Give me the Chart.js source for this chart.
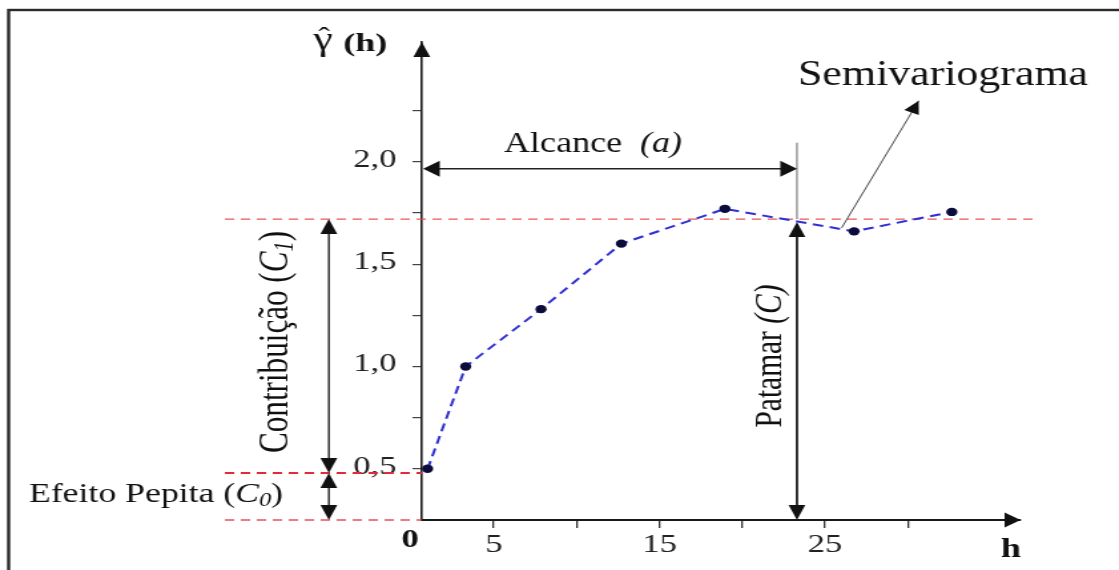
<!DOCTYPE html>
<html><head><meta charset="utf-8">
<script src="https://cdn.jsdelivr.net/npm/chart.js@4.4.1/dist/chart.umd.min.js"></script>
<style>
html,body{margin:0;padding:0;background:#fff;overflow:hidden;}
#c{display:block;width:1119px;height:570px;}
</style></head>
<body>
<canvas id="c" width="841" height="570" style="width:1119px;height:570px;"></canvas>
<script>
// ---- data ----
const lagH   = [1.0, 3.3, 7.85, 12.7, 18.95, 26.75, 32.65];
const gammaH = [0.50, 1.00, 1.28, 1.60, 1.77, 1.66, 1.755];
const xTickValues = [5, 10, 15, 20, 25, 30];
const xTickLabels = ['5', '', '15', '', '25', ''];
const yTickValues = [0.5, 0.75, 1.0, 1.25, 1.5, 1.75, 2.0, 2.25];
const yTickLabels = ['0,5', '', '1,0', '', '1,5', '', '2,0', ''];
const nuggetC0 = 0.48;   // efeito pepita
const sillC = 1.72;      // patamar
const rangeA = 23.3;     // alcance
const xMin = 0.65, xMax = 36.8, yMin = 0.25, yMax = 2.585;

// annotation anchors in data units
const guideLeftX = -11.24, sillRightX = 37.55, contribX = -4.96;
const alcanceY = 1.966, rangeGuideTopY = 2.093;
const pointerFrom = [26.0, 1.677], pointerTo = [30.65, 2.298];

const S = 1119 / 841; // horizontal stretch of the original picture
const SERIF = '"Liberation Serif", "Times New Roman", serif';

function fontFor(r, size) {
  const s = size * (r.s || 1);
  return (r.i ? 'italic ' : '') + (r.b ? 'bold ' : '') + s + 'px ' + SERIF;
}
function drawRuns(ctx, runs, x, y, rot, targetW, size, color) {
  let total = 0;
  runs.forEach(r => { ctx.font = fontFor(r, size); r._w = ctx.measureText(r.t).width; total += r._w; });
  const sx = targetW ? targetW / total : 1;
  ctx.save();
  ctx.translate(x, y); ctx.rotate(rot); ctx.scale(sx, 1);
  ctx.fillStyle = color || '#111';
  ctx.textBaseline = 'alphabetic'; ctx.textAlign = 'left';
  let cx = -total / 2;
  runs.forEach(r => { ctx.font = fontFor(r, size); ctx.fillText(r.t, cx, r.dy || 0); cx += r._w; });
  ctx.restore();
}
function head(ctx, tx, ty, ang, len, half) {
  ctx.save(); ctx.translate(tx, ty); ctx.rotate(ang);
  ctx.beginPath(); ctx.moveTo(0, 0); ctx.lineTo(-len, -half); ctx.lineTo(-len, half); ctx.closePath(); ctx.fill();
  ctx.restore();
}
function line(ctx, x1, y1, x2, y2, color, w, dash) {
  ctx.save(); ctx.strokeStyle = color; ctx.lineWidth = w; ctx.setLineDash(dash || []);
  ctx.beginPath(); ctx.moveTo(x1, y1); ctx.lineTo(x2, y2); ctx.stroke(); ctx.restore();
}
function vArrow(ctx, x, yTop, yBot, color, w) {
  line(ctx, x, yTop + 8, x, yBot - 8, color, w);
  ctx.fillStyle = color;
  head(ctx, x, yTop, -Math.PI / 2, 15, 6.3);
  head(ctx, x, yBot, Math.PI / 2, 15, 6.3);
}

const annot = {
  id: 'annot',
  beforeDraw(chart) {
    const c = chart.ctx;
    c.save(); c.fillStyle = '#fff'; c.fillRect(0, 0, chart.width, chart.height);
    c.strokeStyle = '#2a2a2a'; c.lineWidth = 2.4; c.strokeRect(6.5, 10, chart.width + 40, chart.height + 40);
    c.restore();
  },
  beforeDatasetsDraw(chart) {
    const c = chart.ctx, xs = chart.scales.x, ys = chart.scales.y;
    const X = v => xs.getPixelForValue(v), Y = v => ys.getPixelForValue(v);
    const a = chart.chartArea;
    // red dashed reference lines
    line(c, X(guideLeftX), Y(sillC), X(sillRightX), Y(sillC), 'rgba(228,70,70,0.9)', 1.2, [7, 5]);
    line(c, X(guideLeftX), Y(nuggetC0), a.left, Y(nuggetC0), '#e6283c', 2, [7, 5]);
    line(c, X(guideLeftX), a.bottom, a.left, a.bottom, 'rgba(230,60,72,0.9)', 1.5, [7, 5]);
    // contribution and nugget arrows
    vArrow(c, X(contribX), Y(sillC), Y(nuggetC0), '#111', 1.3);
    vArrow(c, X(contribX), Y(nuggetC0), a.bottom, '#111', 1.3);
    // patamar arrow
    vArrow(c, X(rangeA), Y(sillC) + 3, a.bottom, '#111', 1.7);
    // range guide
    line(c, X(rangeA), Y(rangeGuideTopY), X(rangeA), Y(sillC), '#666', 1);
    // alcance arrow
    line(c, a.left + 8, Y(alcanceY), X(rangeA) - 8, Y(alcanceY), '#222', 1.6);
    c.fillStyle = '#111';
    head(c, a.left + 1, Y(alcanceY), Math.PI, 12.5, 8);
    head(c, X(rangeA), Y(alcanceY), 0, 12.5, 8);
    // semivariogram pointer
    const px1 = X(pointerFrom[0]), py1 = Y(pointerFrom[1]), px2 = X(pointerTo[0]), py2 = Y(pointerTo[1]);
    line(c, px1, py1, px2, py2, '#333', 0.9);
    head(c, px2, py2, Math.atan2(py2 - py1, px2 - px1), 13, 6);
  },
  afterDraw(chart) {
    const c = chart.ctx, a = chart.chartArea;
    c.fillStyle = '#111';
    head(c, a.left, a.top, -Math.PI / 2, 15, 6.3);
    head(c, a.right, a.bottom, 0, 12, 7.5);
    // texts
    drawRuns(c, [{t: 'γ'}], 242.8, 50, 0, 0, 33);
    drawRuns(c, [{t: 'ˆ'}], 243.5, 45, 0, 0, 26);
    drawRuns(c, [{t: '(h)', b: true}], 274.5, 51, 0, 44 / S, 26);
    drawRuns(c, [{t: 'Alcance  '}, {t: '(a)', i: true}], 593 / S, 152, 0, 178 / S, 29);
    drawRuns(c, [{t: 'Semivariograma'}], 943 / S, 85, 0, 290 / S, 35);
    drawRuns(c, [{t: 'Efeito Pepita ('}, {t: 'C', i: true}, {t: '0', i: true, s: 0.68, dy: 4}, {t: ')'}], 156 / S, 502, 0, 254 / S, 27);
    drawRuns(c, [{t: 'Contribuição ('}, {t: 'C', i: true}, {t: '1', i: true, s: 0.65, dy: 4}, {t: ')'}], 288 / S, 342, -Math.PI / 2, 222, 31);
    drawRuns(c, [{t: 'Patamar '}, {t: '(C)', i: true}], 781 / S, 356, -Math.PI / 2, 143, 29);
    drawRuns(c, [{t: '0', b: true}], 410 / S, 547, 0, 0, 26);
    drawRuns(c, [{t: 'h', b: true}], 1011 / S, 557, 0, 0, 27);
  }
};

const tickFont = {family: 'Liberation Serif', size: 26};

new Chart(document.getElementById('c'), {
  type: 'line',
  data: {
    datasets: [{
      data: lagH.map((x, i) => ({x: x, y: gammaH[i]})),
      borderColor: '#3030d4', borderWidth: 2, borderDash: [8, 5],
      pointRadius: 4.2, pointBackgroundColor: '#0c0c3c', pointBorderWidth: 0,
      tension: 0, fill: false
    }]
  },
  options: {
    responsive: false, animation: false, devicePixelRatio: 1,
    layout: {padding: {left: 257, right: 74, top: 42, bottom: 0}},
    plugins: {legend: {display: false}, tooltip: {enabled: false}, title: {display: false}},
    scales: {
      x: {
        type: 'linear', min: xMin, max: xMax,
        afterBuildTicks: s => { s.ticks = xTickValues.map(v => ({value: v})); },
        afterFit: s => { s.height = 50; },
        ticks: {callback: (v, i) => xTickLabels[i], font: tickFont, color: '#222', padding: 2, maxRotation: 0, autoSkip: false},
        grid: {drawOnChartArea: false, drawTicks: true, tickLength: 8, color: '#333', lineWidth: 1.3},
        border: {display: true, color: '#1a1a1a', width: 2}
      },
      y: {
        type: 'linear', min: yMin, max: yMax,
        afterBuildTicks: s => { s.ticks = yTickValues.map(v => ({value: v})); },
        afterFit: s => { s.width = 60; },
        ticks: {callback: (v, i) => yTickLabels[i], font: tickFont, color: '#222', padding: 12, labelOffset: -2, autoSkip: false},
        grid: {drawOnChartArea: false, drawTicks: true, tickLength: 7, color: '#444', lineWidth: 1.2},
        border: {display: true, color: '#1a1a1a', width: 1.6}
      }
    }
  },
  plugins: [annot]
});
</script>
</body></html>
